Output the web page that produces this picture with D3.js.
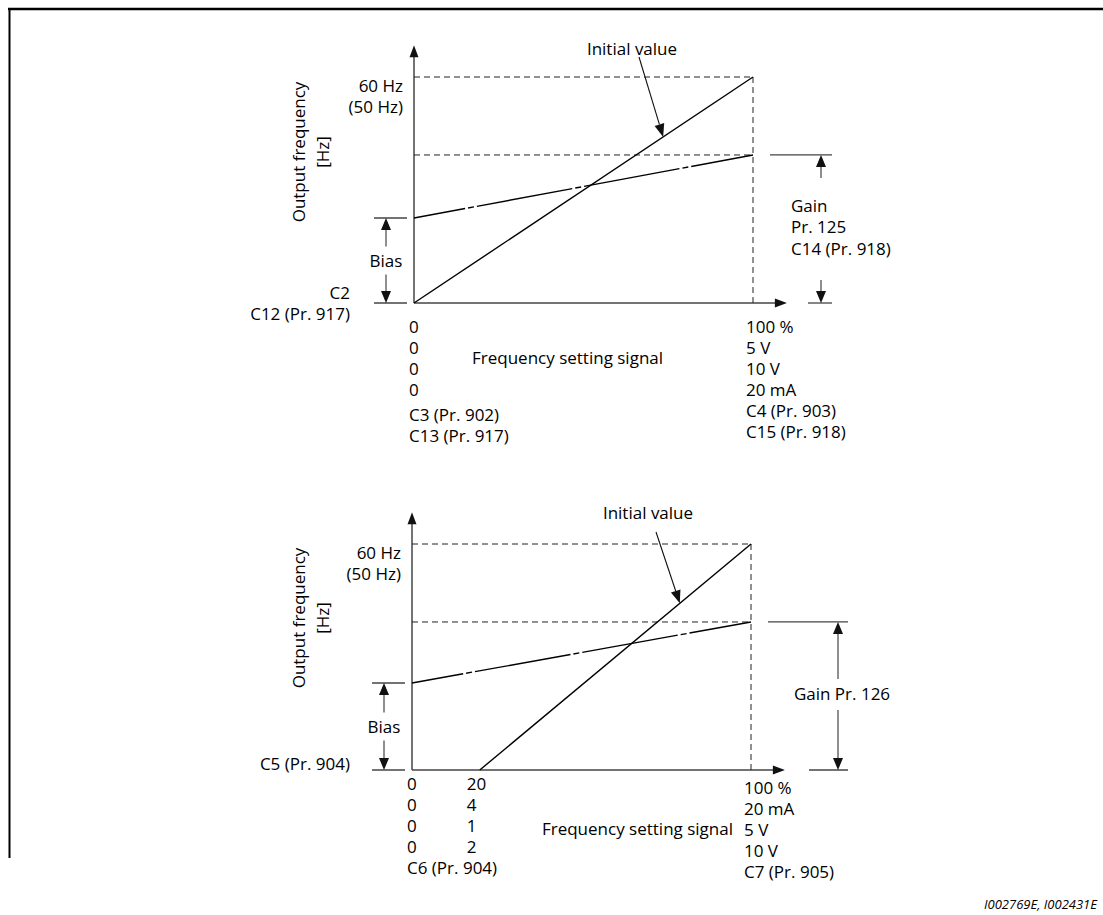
<!DOCTYPE html>
<html>
<head>
<meta charset="utf-8">
<script src="https://cdn.jsdelivr.net/npm/d3@7"></script>
<style>
  html, body { margin: 0; padding: 0; background: #fff; }
  svg text { font-family: "Open Sans", "Noto Sans", sans-serif; font-size: 17px; fill: #000; }
</style>
</head>
<body>
<svg id="chart" width="1103" height="915"></svg>
<script>
// ---------- data ----------
const yMaxLabels = ["60 Hz", "(50 Hz)"];
const yTitle = ["Output frequency", "[Hz]"];
const xTitle = "Frequency setting signal";
const initialLabel = "Initial value";
const biasLabel = "Bias";

// top chart (percent of input signal, percent of max output frequency)
const topInitial = [[0, 0], [100, 100]];
const topBiasLine = [[0, 37.6], [100, 65.5]];
const topOriginLabels = ["C2", "C12 (Pr. 917)"];
const topGainLabels = ["Gain", "Pr. 125", "C14 (Pr. 918)"];
const topXLeftLabels = ["0", "0", "0", "0", "C3 (Pr. 902)", "C13 (Pr. 917)"];
const topXRightLabels = ["100 %", "5 V", "10 V", "20 mA", "C4 (Pr. 903)", "C15 (Pr. 918)"];
const topInitialArrowAt = 73.5;

// bottom chart
const botInitial = [[20, 0], [100, 100]];
const botBiasLine = [[0, 38.5], [100, 65.5]];
const botOriginLabels = ["C5 (Pr. 904)"];
const botGainLabels = ["Gain Pr. 126"];
const botXLeftLabels = ["0", "0", "0", "0", "C6 (Pr. 904)"];
const botXMidLabels = ["20", "4", "1", "2"];
const botXRightLabels = ["100 %", "20 mA", "5 V", "10 V", "C7 (Pr. 905)"];
const botInitialArrowAt = 79;

const footnote = "I002769E, I002431E";

// ---------- drawing ----------
const svg = d3.select("#chart");

// frame
svg.append("line").attr("x1", 8).attr("x2", 1103).attr("y1", 9).attr("y2", 9)
  .attr("stroke", "#000").attr("stroke-width", 2.5);
svg.append("line").attr("x1", 9.5).attr("x2", 9.5).attr("y1", 8).attr("y2", 858)
  .attr("stroke", "#000").attr("stroke-width", 2);

svg.append("text").attr("x", 1097).attr("y", 904).attr("text-anchor", "end")
  .attr("dominant-baseline", "central").style("font-style", "italic").style("font-size", "13px")
  .text(footnote);

function tri(g, x, y, dir, w, h) {
  let pts;
  if (dir === "up") pts = [[x, y], [x - w / 2, y + h], [x + w / 2, y + h]];
  else if (dir === "down") pts = [[x, y], [x - w / 2, y - h], [x + w / 2, y - h]];
  else pts = [[x, y], [x - h, y - w / 2], [x - h, y + w / 2]];
  g.append("path").attr("d", "M" + pts.map(p => p.join(",")).join("L") + "Z").attr("fill", "#111");
}

function textLines(g, lines, x, y0, step, anchor) {
  lines.forEach((t, i) => {
    const yy = Array.isArray(y0) ? y0[i] : y0 + i * step;
    g.append("text").attr("x", x).attr("y", yy).attr("text-anchor", anchor || "start")
      .attr("dominant-baseline", "central").text(t);
  });
}

function drawChart(c) {
  const g = svg.append("g");
  const x = d3.scaleLinear().domain([0, 100]).range([c.x0, c.x1]);
  const y = d3.scaleLinear().domain([0, 100]).range([c.y0, c.y1]);
  const line = d3.line().x(d => x(d[0])).y(d => y(d[1]));

  // axes
  g.append("line").attr("x1", x(0)).attr("x2", x(c.xArrow) - 10).attr("y1", y(0)).attr("y2", y(0))
    .attr("stroke", "#444").attr("stroke-width", 1.5);
  g.append("line").attr("x1", x(0)).attr("x2", x(0)).attr("y1", y(0)).attr("y2", y(c.yArrow) + 10)
    .attr("stroke", "#444").attr("stroke-width", 1.5);
  tri(g, x(c.xArrow), y(0), "right", 9, 12);
  tri(g, x(0), y(c.yArrow), "up", 9, 12);

  // dashed guides
  const dash = "6,4";
  g.append("line").attr("x1", x(0)).attr("x2", x(100)).attr("y1", y(100)).attr("y2", y(100))
    .attr("stroke", "#222").attr("stroke-width", 1).attr("stroke-dasharray", dash);
  g.append("line").attr("x1", x(0)).attr("x2", x(100)).attr("y1", y(c.bias[1][1])).attr("y2", y(c.bias[1][1]))
    .attr("stroke", "#222").attr("stroke-width", 1).attr("stroke-dasharray", dash);
  g.append("line").attr("x1", x(100)).attr("x2", x(100)).attr("y1", y(100)).attr("y2", y(0))
    .attr("stroke", "#222").attr("stroke-width", 1).attr("stroke-dasharray", dash);

  // data lines
  g.append("path").attr("d", line(c.initial)).attr("fill", "none").attr("stroke", "#000").attr("stroke-width", 1.4);
  g.append("path").attr("d", line(c.bias)).attr("fill", "none").attr("stroke", "#000").attr("stroke-width", 1.4)
    .attr("stroke-dasharray", "97,3,6,3").attr("stroke-dashoffset", 45);

  // initial value label and arrow
  g.append("text").attr("x", c.initLabel[0]).attr("y", c.initLabel[1]).attr("text-anchor", "middle")
    .attr("dominant-baseline", "central").text(initialLabel);
  const [ia, ib] = c.initial;
  const tx = x(c.initArrowAt);
  const ty = y(ib[1] * (c.initArrowAt - ia[0]) / (ib[0] - ia[0]));
  const sx = c.initArrowStart[0], sy = c.initArrowStart[1];
  const ang = Math.atan2(ty - sy, tx - sx);
  const hl = 13, hw = 5;
  const bx = tx - hl * Math.cos(ang), by = ty - hl * Math.sin(ang);
  g.append("line").attr("x1", sx).attr("y1", sy).attr("x2", bx).attr("y2", by).attr("stroke", "#111").attr("stroke-width", 1.1);
  g.append("path").attr("fill", "#111").attr("d",
    `M${tx},${ty}L${bx + hw * Math.sin(ang)},${by - hw * Math.cos(ang)}L${bx - hw * Math.sin(ang)},${by + hw * Math.cos(ang)}Z`);

  // bias annotation
  const yb = y(c.bias[0][1]);
  [yb, y(0)].forEach(yy => g.append("line").attr("x1", c.biasX - 12).attr("x2", c.biasX + 21)
    .attr("y1", yy).attr("y2", yy).attr("stroke", "#444").attr("stroke-width", 1.3));
  const bm = (yb + y(0)) / 2;
  g.append("line").attr("x1", c.biasX).attr("x2", c.biasX).attr("y1", yb + 10).attr("y2", bm - 14).attr("stroke", "#444").attr("stroke-width", 1.2);
  g.append("line").attr("x1", c.biasX).attr("x2", c.biasX).attr("y1", bm + 14).attr("y2", y(0) - 10).attr("stroke", "#444").attr("stroke-width", 1.2);
  tri(g, c.biasX, yb, "up", 10, 12);
  tri(g, c.biasX, y(0), "down", 10, 12);
  g.append("text").attr("x", c.biasX).attr("y", bm).attr("text-anchor", "middle").attr("dominant-baseline", "central").text(biasLabel);

  // gain annotation
  const yg = y(c.bias[1][1]);
  g.append("line").attr("x1", c.gainTopL).attr("x2", c.gainR).attr("y1", yg).attr("y2", yg).attr("stroke", "#444").attr("stroke-width", 1.3);
  g.append("line").attr("x1", c.gainBotL).attr("x2", c.gainR).attr("y1", y(0)).attr("y2", y(0)).attr("stroke", "#444").attr("stroke-width", 1.3);
  g.append("line").attr("x1", c.gainX).attr("x2", c.gainX).attr("y1", yg + 10).attr("y2", c.gainStemTop).attr("stroke", "#444").attr("stroke-width", 1.2);
  g.append("line").attr("x1", c.gainX).attr("x2", c.gainX).attr("y1", c.gainStemBot).attr("y2", y(0) - 10).attr("stroke", "#444").attr("stroke-width", 1.2);
  tri(g, c.gainX, yg, "up", 10, 12);
  tri(g, c.gainX, y(0), "down", 10, 12);
  textLines(g, c.gainLabels, c.gainTextX, c.gainTextY, 21.5, c.gainAnchor);

  // y labels
  textLines(g, yMaxLabels, x(0) - 11, y(100) + 8, 21, "end");
  textLines(g, c.originLabels, 350, c.originY, 21, "end");
  yTitle.forEach((t, i) => {
    g.append("text").attr("transform", `translate(${298 + i * 24},${c.yTitleC}) rotate(-90)`)
      .attr("text-anchor", "middle").attr("dominant-baseline", "central").text(t);
  });

  // x labels
  textLines(g, c.xLeft, x(0) - 5, c.xLeftY, 0, "start");
  if (c.xMid) textLines(g, c.xMid, x(20) - 13, c.xLeftY, 0, "start");
  textLines(g, c.xRight, x(100) - 7, c.xRightY, 0, "start");
  g.append("text").attr("x", c.xTitle[0]).attr("y", c.xTitle[1]).attr("text-anchor", c.xTitleAnchor)
    .attr("dominant-baseline", "central").text(xTitle);
}

drawChart({
  x0: 414, x1: 753, y0: 303, y1: 77, xArrow: 110, yArrow: 114,
  initial: topInitial, bias: topBiasLine,
  initLabel: [632, 48], initArrowStart: [639, 57], initArrowAt: topInitialArrowAt,
  biasX: 386,
  gainTopL: 770, gainBotL: 808, gainR: 832, gainX: 821, gainStemTop: 178, gainStemBot: 280,
  gainLabels: topGainLabels, gainTextX: 791, gainTextY: 205, gainAnchor: "start",
  originLabels: topOriginLabels, originY: 292,
  yTitleC: 152,
  xLeft: topXLeftLabels, xLeftY: [326, 347, 368, 389, 414, 435],
  xRight: topXRightLabels, xRightY: [326, 347, 368, 389, 410, 431],
  xTitle: [472, 357], xTitleAnchor: "start"
});

drawChart({
  x0: 412, x1: 751, y0: 770, y1: 544, xArrow: 110, yArrow: 114,
  initial: botInitial, bias: botBiasLine,
  initLabel: [648, 512], initArrowStart: [656, 532], initArrowAt: botInitialArrowAt,
  biasX: 384,
  gainTopL: 768, gainBotL: 809, gainR: 848, gainX: 838, gainStemTop: 679, gainStemBot: 710,
  gainLabels: botGainLabels, gainTextX: 842, gainTextY: 693, gainAnchor: "middle",
  originLabels: botOriginLabels, originY: 763,
  yTitleC: 618,
  xLeft: botXLeftLabels, xMid: botXMidLabels, xLeftY: [783, 804, 825, 846, 867],
  xRight: botXRightLabels, xRightY: [787, 808, 829, 850, 871],
  xTitle: [733, 828], xTitleAnchor: "end"
});
</script>
</body>
</html>
